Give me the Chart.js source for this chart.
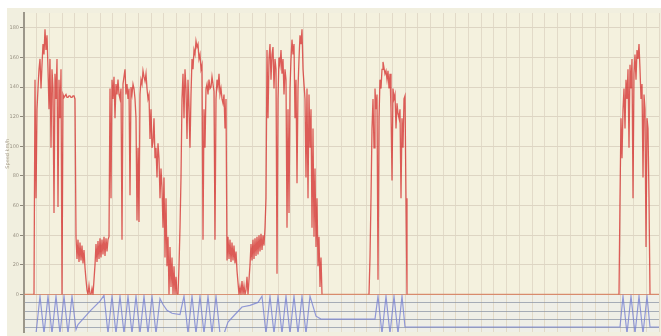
<!DOCTYPE html>
<html>
<head>
<meta charset="utf-8">
<script src="https://cdn.jsdelivr.net/npm/chart.js@4.4.1/dist/chart.umd.min.js"></script>
<style>
  html, body { margin: 0; padding: 0; background: #ffffff; overflow: hidden; }
  #logChart { display: block; filter: blur(0.45px); }
</style>
</head>
<body>
<canvas id="logChart" width="661" height="336"></canvas>
<script>
// sample axis (one sample per step), speed axis and the lane ticks of the lower strip
const sampleMax = 635;
const speedTicks = [0, 190, 10];   // min, max, step
const laneTicks = [1, 2, 3, 4, 5];

// red trace in three bursts (start sample + values)
const burstAStart = 6;
const burstA = [
    0, 0, 0, 0, 0, 145, 65, 125, 139, 152,
    159, 139, 155, 169, 162, 179, 165, 175, 152, 125,
    159, 99, 152, 139, 55, 149, 132, 159, 59, 145,
    119, 152, 0, 135, 133, 134, 135, 133, 133, 134,
    134, 133, 133, 134, 134, 132, 39, 24, 37, 22,
    35, 23, 33, 21, 30, 18, 10, 3, 0, 6,
    0, 0, 4, 0, 10, 20, 34, 22, 36, 24,
    38, 25, 37, 27, 39, 26, 38, 29, 37, 39,
    139, 65, 145, 132, 147, 119, 142, 135, 145, 135,
    132, 139, 37, 142, 147, 152, 135, 142, 132, 139,
    67, 140, 135, 142, 139, 132, 119, 50, 99, 49,
    135, 145, 142, 151, 147, 144, 149, 139, 132, 135,
    105, 125, 99, 103, 119, 92, 99, 79, 102, 92,
    65, 85, 72, 45, 79, 25, 65, 19, 39, 0,
    32, 5, 25, 0, 19, 0, 12, 0, 0, 19,
    45, 79, 132, 149, 119, 152, 139, 105, 145, 125,
    99, 135, 159, 152, 165, 162, 171, 167, 169, 159,
    162, 152, 155, 37, 125, 99, 139, 142, 135, 145,
    139, 140, 147, 142, 137, 37, 132, 145, 140, 149,
    135, 139, 132, 129, 135, 112, 132, 23, 39, 24,
    37, 22, 35, 23, 33, 21, 29, 16, 8, 0,
    5, 0, 9, 0, 6, 0, 3, 12, 0, 10,
    20, 34, 23, 37, 24, 38, 26, 39, 27, 40,
    29, 41, 30, 40, 33, 45, 65, 165, 119, 159,
    169, 145, 162, 167, 139, 159, 152, 14, 132, 160,
    155, 165, 149, 159, 135, 152, 145, 45, 125, 55,
    139, 159, 172, 162, 169, 119, 145, 75, 139, 159,
    175, 169, 179, 152, 142, 132, 79, 139, 65, 135,
    99, 125, 45, 112, 39, 85, 32, 65, 19, 39,
    5, 25, 0, 0
];
const burstBStart = 345;
const burstB = [
    0, 25, 65, 112, 132, 99, 139, 125, 135, 10,
    119, 145, 139, 152, 157, 153, 149, 151, 145, 151,
    139, 149, 125, 77, 139, 132, 135, 112, 129, 122,
    119, 125, 65, 119, 99, 132, 134, 65, 0
];
const burstCStart = 595;
const burstC = [
    0, 65, 119, 92, 125, 139, 112, 145, 132, 152,
    99, 155, 139, 159, 65, 149, 162, 145, 165, 159,
    169, 152, 132, 142, 79, 135, 125, 32, 119, 112,
    65, 0
];

// blue trace in the lower strip
const laneX = [
    0, 12, 16, 20, 24, 28, 32, 36, 40, 44, 48, 52, 54, 66, 76, 80,
    84, 88, 92, 96, 100, 104, 108, 112, 116, 120, 124, 128, 132,
    136, 139, 143, 148, 156, 160, 164, 168, 172, 176, 180, 184, 188, 192, 196,
    200, 204, 211, 218, 226, 234, 238, 242, 246, 250, 254, 258, 262, 266, 270,
    274, 278, 282, 286, 289, 292, 297, 351, 354, 358, 362, 366, 370, 374, 378,
    381, 596, 599, 603, 607, 611, 615, 619, 623, 626, 635
];
const laneY = [
    0.3, 0.3, 4.8, 0.3, 4.8, 0.3, 4.8, 0.3, 4.8, 0.3, 4.8, 0.8, 1.4, 3.0, 4.2, 4.9,
    0.3, 4.8, 0.3, 4.8, 0.3, 4.8, 0.3, 4.8, 0.3, 4.8, 0.3, 4.8, 0.3,
    4.5, 3.8, 3.1, 2.75, 2.6, 4.8, 0.3, 4.8, 0.3, 4.8, 0.3, 4.8, 0.3, 4.8, 0.3,
    0.3, 1.7, 2.6, 3.5, 3.7, 4.05, 4.8, 0.3, 4.8, 0.3, 4.8, 0.3, 4.8, 0.3, 4.8,
    0.3, 4.8, 0.3, 4.8, 3.6, 2.4, 2.05, 2.05, 4.8, 0.3, 4.8, 0.3, 4.8, 0.3, 4.8,
    1.1, 1.1, 4.8, 0.3, 4.8, 0.3, 4.8, 0.3, 4.8, 1.1, 1.1
];

const redPoints = [{ x: 0, y: 0 }];
[[burstAStart, burstA], [burstBStart, burstB], [burstCStart, burstC]].forEach(([start, vals]) => {
    vals.forEach((v, i) => redPoints.push({ x: start + i, y: v }));
});
redPoints.push({ x: sampleMax, y: 0 });

const lanePoints = laneX.map((x, i) => ({ x: x, y: laneY[i] }));

// cream paper behind the plot, lighter strip behind the lanes
const paperBackground = {
    id: "paperBackground",
    beforeDraw(chart) {
        const { ctx, chartArea, scales } = chart;
        ctx.save();
        ctx.fillStyle = "#ffffff";
        ctx.fillRect(0, 0, chart.width, chart.height);
        ctx.fillStyle = "#f1efdf";
        ctx.fillRect(7, 8, chart.width - 7, chart.height - 8);
        ctx.fillStyle = "#f4f1de";
        ctx.fillRect(chartArea.left, chartArea.top, chartArea.width, scales.y.bottom - chartArea.top);
        ctx.fillStyle = "#efefe7";
        ctx.fillRect(chartArea.left, scales.y2.top, chartArea.width, scales.y2.bottom - scales.y2.top);
        ctx.restore();
    }
};

new Chart(document.getElementById("logChart"), {
    type: "line",
    data: {
        datasets: [
            {
                label: "Speed",
                data: redPoints,
                yAxisID: "y",
                borderColor: "rgba(210, 35, 35, 0.72)",
                borderWidth: 1.3,
                pointRadius: 0,
                tension: 0,
                order: 1,
                // flat stretches at zero read as a salmon baseline
                segment: {
                    borderColor: (c) => c.p0.parsed.y === 0 && c.p1.parsed.y === 0 ? "rgba(215, 130, 100, 0.85)" : undefined
                }
            },
            {
                label: "Lane",
                data: lanePoints,
                yAxisID: "y2",
                borderColor: "rgba(120, 130, 210, 0.8)",
                borderWidth: 1.2,
                pointRadius: 0,
                tension: 0,
                order: 2
            }
        ]
    },
    options: {
        responsive: false,
        animation: false,
        devicePixelRatio: 1,
        layout: { padding: { top: 13, right: 2, left: 0, bottom: 0 } },
        plugins: {
            legend: { display: false },
            tooltip: { enabled: false }
        },
        scales: {
            x: {
                type: "linear",
                min: 0,
                max: sampleMax,
                ticks: { display: false, stepSize: 12.7 },
                grid: { color: "#e2dac8", drawTicks: false },
                border: { display: false },
                afterFit: (s) => { s.height = 0; }
            },
            y: {
                type: "linear",
                position: "left",
                stack: "strip",
                stackWeight: 285,
                weight: 1,
                min: speedTicks[0],
                max: speedTicks[1],
                ticks: {
                    stepSize: speedTicks[2],
                    padding: 1,
                    color: "#9a9384",
                    font: { family: "DejaVu Sans", size: 5 }
                },
                title: {
                    display: true,
                    text: "Speed km/h",
                    color: "#a89f8e",
                    padding: { top: 5, bottom: 0 },
                    font: { family: "DejaVu Sans", size: 5 }
                },
                grid: {
                    color: (c) => c.tick && c.tick.value === speedTicks[1] ? "#aaa69c" : "#ddd5c3",
                    lineWidth: (c) => c.tick && c.tick.value === speedTicks[1] ? 2 : 1,
                    tickLength: 4,
                    tickColor: "#8d877a"
                },
                border: { color: "#9c978a", width: 2 },
                afterFit: (s) => { s.width = 24; }
            },
            y2: {
                type: "linear",
                position: "left",
                stack: "strip",
                stackWeight: 38,
                weight: 0,
                min: 0.5,
                max: 5,
                ticks: { display: false },
                afterBuildTicks: (s) => { s.ticks = laneTicks.map((v) => ({ value: v })); },
                grid: {
                    color: (c) => c.tick && c.tick.value === 5 ? "rgba(215, 140, 110, 0.9)" : "rgba(140, 150, 165, 0.75)",
                    drawTicks: false
                },
                border: { color: "#9c978a", width: 2 },
                afterFit: (s) => { s.width = 24; }
            }
        }
    },
    plugins: [paperBackground]
});
</script>
</body>
</html>
